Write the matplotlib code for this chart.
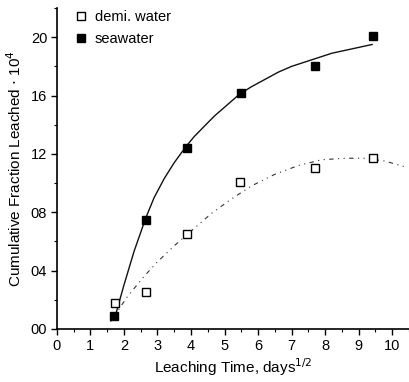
import matplotlib

matplotlib.use("Agg")
import matplotlib.pyplot as plt
from matplotlib.ticker import MultipleLocator

plt.rcParams["font.family"] = ["Liberation Sans", "DejaVu Sans"]

# Measured leaching data (x = sqrt(days))
demi_x = [1.73, 2.65, 3.87, 5.45, 7.71, 9.43]
demi_y = [0.18, 0.25, 0.65, 1.01, 1.10, 1.17]
sea_x = [1.70, 2.65, 3.87, 5.48, 7.71, 9.43]
sea_y = [0.09, 0.75, 1.24, 1.62, 1.80, 2.01]

# Fitted trend lines
sea_fit_x = [1.78, 2.0, 2.3, 2.65, 2.9, 3.2, 3.5, 3.85, 4.1, 4.4, 4.7, 5.0,
             5.45, 5.8, 6.2, 6.6, 7.0, 7.4, 7.8, 8.2, 8.6, 9.0, 9.4]
sea_fit_y = [0.12, 0.30, 0.53, 0.76, 0.90, 1.03, 1.14, 1.25, 1.32, 1.39, 1.46, 1.52,
             1.61, 1.66, 1.71, 1.76, 1.80, 1.83, 1.86, 1.89, 1.91, 1.93, 1.95]
demi_fit_x = [1.6, 2.1, 2.6, 3.0, 3.5, 4.0, 4.6, 5.2, 5.8, 6.5, 7.2, 7.9,
              8.6, 9.2, 9.8, 10.4]
demi_fit_y = [0.05, 0.22, 0.36, 0.46, 0.57, 0.67, 0.79, 0.89, 0.98, 1.06, 1.12, 1.16,
              1.17, 1.17, 1.15, 1.11]

x_ticks = list(range(0, 11))
y_ticks = [0.0, 0.4, 0.8, 1.2, 1.6, 2.0]
y_tick_labels = ["00", "04", "08", "12", "16", "20"]

fig = plt.figure(figsize=(4.09, 3.82), dpi=100)
ax = fig.add_axes([0.139, 0.139, 0.861, 0.840])

ax.plot(sea_fit_x, sea_fit_y, color="#111111", lw=1.0, zorder=2)
ax.plot(demi_fit_x, demi_fit_y, color="#333333", lw=0.8,
        linestyle=(0, (4, 4, 1, 4, 1, 4)), zorder=2)

ax.plot(demi_x, demi_y, ls="none", marker="s", ms=5.5, mfc="white",
        mec="black", mew=1.0, label="demi. water", zorder=3)
ax.plot(sea_x, sea_y, ls="none", marker="s", ms=5.5, mfc="black",
        mec="black", label="seawater", zorder=3)

ax.set_xlim(0, 10.5)
ax.set_ylim(0, 2.2)
ax.set_xticks(x_ticks)
ax.xaxis.set_minor_locator(MultipleLocator(0.5))
ax.set_yticks(y_ticks)
ax.set_yticklabels(y_tick_labels)
ax.yaxis.set_minor_locator(MultipleLocator(0.2))
ax.tick_params(which="major", direction="out", length=4, width=1,
               labelsize=10.5, pad=3)
ax.tick_params(which="minor", direction="out", length=2, width=0.8)

for side in ("top", "right"):
    ax.spines[side].set_visible(False)
for side in ("left", "bottom"):
    ax.spines[side].set_linewidth(1.2)

ax.set_xlabel("Leaching Time, days$^{1/2}$", fontsize=11, labelpad=3)
ax.set_ylabel("Cumulative Fraction Leached $\\cdot$ 10$^{4}$", fontsize=11, labelpad=5)

ax.legend(loc="upper left", frameon=False, fontsize=10.5, handletextpad=0.3,
          borderaxespad=0.2, labelspacing=0.5, handlelength=1.2,
          bbox_to_anchor=(0.02, 1.02))

fig.savefig("out.png", dpi=100, facecolor="white")
